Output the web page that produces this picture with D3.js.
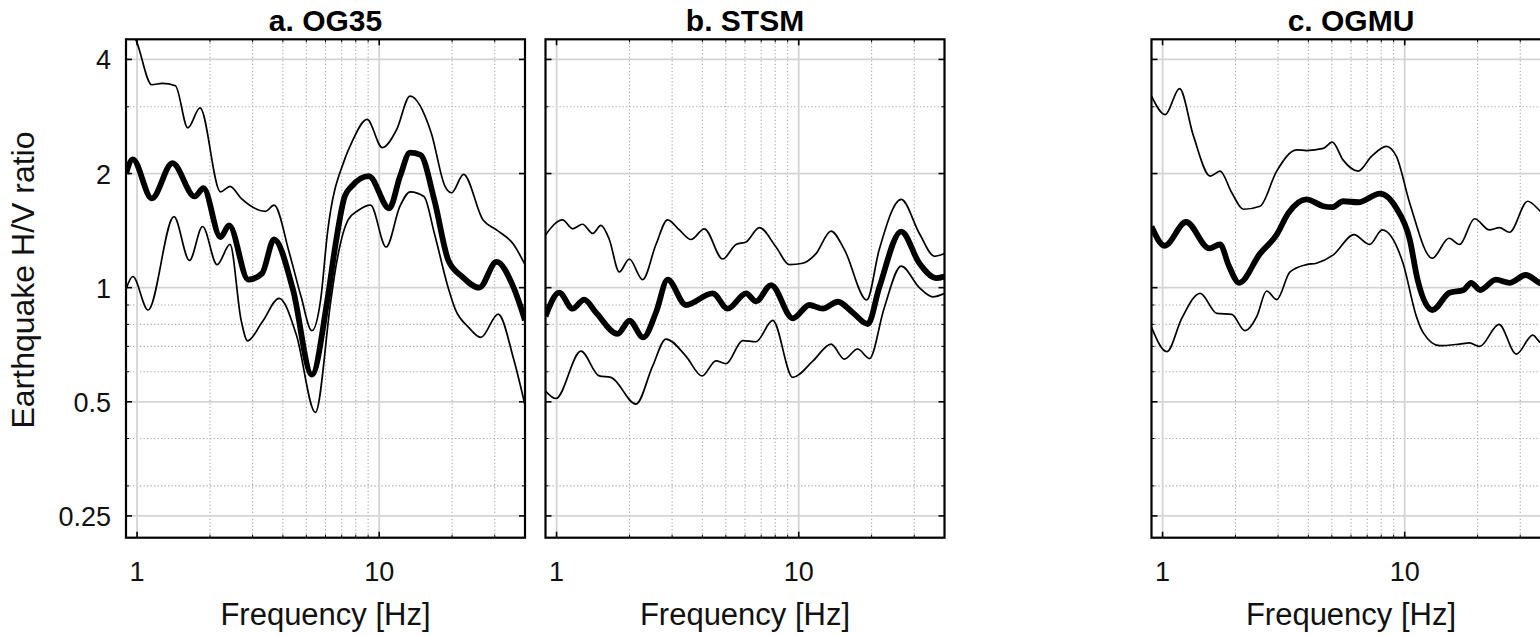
<!DOCTYPE html>
<html><head><meta charset="utf-8">
<script src="https://cdn.jsdelivr.net/npm/d3@7/dist/d3.min.js"></script>
<style>body{margin:0;background:#fff}svg{display:block}</style>
</head><body>
<svg id="chart" width="1540" height="636"></svg>
<script>
// ---------- labels / ticks ----------
const panelTitles = ["a. OG35", "b. STSM", "c. OGMU"];
const xLabel = "Frequency [Hz]";
const yLabel = "Earthquake H/V ratio";
const xTickValues = [1, 10];
const xTickLabels = ["1", "10"];
const yTickValues = [0.25, 0.5, 1, 2, 4];
const yTickLabels = ["0.25", "0.5", "1", "2", "4"];
const xMinorValues = [2, 3, 4, 5, 6, 7, 8, 9, 20, 30, 40];
const yMinorValues = [0.3, 0.4, 0.6, 0.7, 0.8, 0.9, 3];

// ---------- a. OG35 ----------
const og35MeanF  = [0.9, 0.96, 1.15, 1.4, 1.73, 1.88, 2.21, 2.4, 2.88, 3.28, 3.68, 4.4, 5.27, 6.11, 6.6, 7.2, 7.69, 9.06, 11.0, 12.2, 13.4, 14.8, 16.9, 19.3, 22.0, 25.9, 30.5, 35.9, 40];
const og35MeanV  = [2.0, 2.18, 1.72, 2.13, 1.74, 1.83, 1.36, 1.46, 1.05, 1.09, 1.34, 0.99, 0.59, 0.93, 1.3, 1.74, 1.85, 1.97, 1.62, 1.97, 2.27, 2.24, 1.70, 1.18, 1.07, 1.0, 1.17, 1.0, 0.82];
const og35UpperF = [0.9, 0.99, 1.15, 1.27, 1.44, 1.62, 1.82, 2.21, 2.42, 2.69, 3.39, 3.68, 4.26, 4.75, 5.27, 5.73, 6.11, 7.2, 7.69, 8.91, 10.3, 11.8, 13.4, 16.4, 18.7, 19.9, 22.3, 26.8, 30.5, 35.9, 40];
const og35UpperV = [5.0, 4.5, 3.43, 3.46, 3.41, 2.64, 2.98, 1.79, 1.85, 1.72, 1.59, 1.65, 1.23, 0.95, 0.77, 0.93, 1.39, 2.18, 2.41, 2.78, 2.34, 2.61, 3.2, 2.56, 1.85, 1.78, 1.99, 1.51, 1.42, 1.30, 1.15];
const og35LowerF = [0.9, 0.96, 1.11, 1.42, 1.645, 1.865, 2.14, 2.42, 2.69, 2.86, 3.28, 3.86, 4.55, 5.45, 6.32, 6.63, 7.44, 8.21, 9.21, 10.68, 12.18, 13.43, 15.3, 16.9, 19.27, 20.6, 23.4, 26.3, 31.0, 35.9, 40];
const og35LowerV = [0.99, 1.07, 0.873, 1.54, 1.18, 1.45, 1.15, 1.30, 0.82, 0.724, 0.81, 0.937, 0.75, 0.469, 0.93, 1.14, 1.51, 1.60, 1.65, 1.28, 1.64, 1.79, 1.74, 1.39, 1.0, 0.878, 0.786, 0.739, 0.852, 0.648, 0.49];

// ---------- b. STSM ----------
const stsmMeanF  = [0.9, 1.026, 1.164, 1.30, 1.454, 1.787, 2.0, 2.28, 2.573, 2.875, 3.42, 4.41, 5.09, 6.06, 6.66, 7.69, 9.45, 11.07, 12.57, 14.5, 16.7, 19.3, 21.5, 26.5, 31.5, 36.9, 40];
const stsmMeanV  = [0.84, 0.97, 0.88, 0.93, 0.86, 0.755, 0.818, 0.739, 0.86, 1.05, 0.90, 0.966, 0.88, 0.966, 0.92, 1.016, 0.83, 0.90, 0.88, 0.918, 0.86, 0.802, 1.0, 1.406, 1.16, 1.06, 1.07];
const stsmUpperF = [0.9, 1.059, 1.164, 1.28, 1.409, 1.525, 1.651, 1.815, 1.997, 2.267, 2.573, 2.875, 3.213, 3.591, 4.076, 4.853, 5.51, 6.06, 6.88, 8.06, 9.15, 10.39, 11.79, 13.6, 15.44, 19.1, 21.5, 26.5, 31.5, 36.4, 40];
const stsmUpperV = [1.378, 1.51, 1.43, 1.47, 1.39, 1.46, 1.34, 1.10, 1.19, 1.05, 1.30, 1.51, 1.42, 1.34, 1.43, 1.19, 1.30, 1.32, 1.44, 1.28, 1.15, 1.16, 1.23, 1.41, 1.26, 0.928, 1.26, 1.71, 1.39, 1.21, 1.23];
const stsmLowerF = [0.9, 0.994, 1.26, 1.50, 1.677, 2.128, 2.49, 2.83, 3.42, 3.99, 4.55, 5.01, 5.87, 6.66, 7.81, 9.45, 11.43, 13.6, 15.44, 17.5, 19.6, 22.5, 26.5, 31.5, 35.8, 40];
const stsmLowerV = [0.534, 0.51, 0.68, 0.585, 0.58, 0.493, 0.62, 0.732, 0.66, 0.585, 0.641, 0.63, 0.725, 0.72, 0.82, 0.58, 0.64, 0.71, 0.648, 0.689, 0.65, 0.88, 1.14, 1.0, 0.946, 0.966];

// ---------- c. OGMU ----------
const ogmuMeanF  = [0.9, 1.02, 1.25, 1.56, 1.728, 1.88, 2.07, 2.526, 2.96, 3.3, 3.93, 4.61, 5.02, 5.57, 6.42, 7.9, 9.24, 10.49, 11.3, 13.0, 15.3, 17.5, 18.8, 20.5, 23.8, 27.1, 31.6, 36.0, 40];
const ogmuMeanV  = [1.45, 1.29, 1.49, 1.27, 1.30, 1.14, 1.03, 1.23, 1.38, 1.57, 1.71, 1.64, 1.63, 1.69, 1.68, 1.77, 1.62, 1.34, 1.05, 0.873, 0.97, 0.986, 1.03, 0.986, 1.05, 1.03, 1.08, 1.03, 1.0];
const ogmuUpperF = [0.9, 1.025, 1.175, 1.342, 1.572, 1.728, 1.931, 2.157, 2.526, 2.96, 3.58, 3.93, 4.61, 5.02, 5.57, 6.42, 7.29, 8.40, 9.24, 10.49, 13.0, 15.23, 16.85, 19.43, 22.4, 24.6, 27.1, 32.2, 36.0, 40];
const ogmuUpperV = [3.2, 2.86, 3.35, 2.51, 1.97, 2.03, 1.78, 1.61, 1.64, 2.03, 2.31, 2.30, 2.33, 2.42, 2.17, 2.03, 2.22, 2.36, 2.22, 1.67, 1.196, 1.35, 1.30, 1.52, 1.42, 1.44, 1.40, 1.69, 1.6, 1.5];
const ogmuLowerF = [0.9, 1.042, 1.20, 1.43, 1.675, 1.93, 2.19, 2.45, 2.69, 2.96, 3.36, 3.93, 4.32, 5.07, 6.17, 7.17, 8.07, 9.84, 11.17, 11.9, 13.94, 16.85, 18.5, 20.4, 24.5, 28.9, 33.8, 36.0, 40];
const ogmuLowerV = [0.786, 0.678, 0.83, 0.966, 0.855, 0.85, 0.77, 0.84, 0.98, 0.93, 1.10, 1.15, 1.16, 1.22, 1.38, 1.30, 1.42, 1.16, 0.84, 0.762, 0.703, 0.71, 0.715, 0.70, 0.80, 0.668, 0.75, 0.72, 0.7];

const panels = [
  {title: panelTitles[0], x0: 126,    series: [[og35UpperF, og35UpperV], [og35LowerF, og35LowerV]], mean: [og35MeanF, og35MeanV], yLabels: true},
  {title: panelTitles[1], x0: 545.5,  series: [[stsmUpperF, stsmUpperV], [stsmLowerF, stsmLowerV]], mean: [stsmMeanF, stsmMeanV], yLabels: false},
  {title: panelTitles[2], x0: 1151.5, series: [[ogmuUpperF, ogmuUpperV], [ogmuLowerF, ogmuLowerV]], mean: [ogmuMeanF, ogmuMeanV], yLabels: false}
];

const W = 399, plotTop = 39.3, plotBottom = 537.7;
const svg = d3.select("#chart");
const FONT = "'Liberation Sans', Arial, Helvetica, sans-serif";

const y = d3.scaleLog().domain([0.219, 4.52]).range([plotBottom, plotTop]);

panels.forEach((p, i) => {
  const x = d3.scaleLog().domain([0.9, 40]).range([p.x0, p.x0 + W]);
  const g = svg.append("g");
  const clipId = "clip" + i;
  g.append("clipPath").attr("id", clipId).append("rect")
    .attr("x", p.x0).attr("y", plotTop).attr("width", W).attr("height", plotBottom - plotTop);

  // minor grid (dotted)
  g.selectAll(".xmin").data(xMinorValues).enter().append("line")
    .attr("x1", d => x(d)).attr("x2", d => x(d)).attr("y1", plotTop).attr("y2", plotBottom)
    .attr("stroke", "#aaaaaa").attr("stroke-width", 1.1).attr("stroke-dasharray", "1.3,2.2");
  g.selectAll(".ymin").data(yMinorValues).enter().append("line")
    .attr("x1", p.x0).attr("x2", p.x0 + W).attr("y1", d => y(d)).attr("y2", d => y(d))
    .attr("stroke", "#aaaaaa").attr("stroke-width", 1.1).attr("stroke-dasharray", "1.3,2.2");
  // major grid
  g.selectAll(".xmaj").data(xTickValues).enter().append("line")
    .attr("x1", d => x(d)).attr("x2", d => x(d)).attr("y1", plotTop).attr("y2", plotBottom)
    .attr("stroke", "#d4d4d4").attr("stroke-width", 1.8);
  g.selectAll(".ymaj").data(yTickValues).enter().append("line")
    .attr("x1", p.x0).attr("x2", p.x0 + W).attr("y1", d => y(d)).attr("y2", d => y(d))
    .attr("stroke", "#d4d4d4").attr("stroke-width", 1.8);

  const line = d3.line().x(d => x(d[0])).y(d => y(d[1])).curve(d3.curveMonotoneX);
  const lines = g.append("g").attr("clip-path", `url(#${clipId})`);
  p.series.forEach(s => {
    lines.append("path").datum(s[0].map((f, k) => [f, s[1][k]]))
      .attr("d", line).attr("fill", "none").attr("stroke", "#000").attr("stroke-width", 1.7);
  });
  lines.append("path").datum(p.mean[0].map((f, k) => [f, p.mean[1][k]]))
    .attr("d", line).attr("fill", "none").attr("stroke", "#000").attr("stroke-width", 5.8)
    .attr("stroke-linejoin", "round");

  // ticks (inward)
  const tk = g.append("g").attr("stroke", "#000").attr("stroke-width", 1.6);
  xTickValues.forEach(v => {
    tk.append("line").attr("x1", x(v)).attr("x2", x(v)).attr("y1", plotBottom).attr("y2", plotBottom - 6);
    tk.append("line").attr("x1", x(v)).attr("x2", x(v)).attr("y1", plotTop).attr("y2", plotTop + 6);
  });
  xMinorValues.forEach(v => {
    tk.append("line").attr("x1", x(v)).attr("x2", x(v)).attr("y1", plotBottom).attr("y2", plotBottom - 3).attr("stroke-width", 1);
    tk.append("line").attr("x1", x(v)).attr("x2", x(v)).attr("y1", plotTop).attr("y2", plotTop + 3).attr("stroke-width", 1);
  });
  yTickValues.forEach(v => {
    tk.append("line").attr("x1", p.x0).attr("x2", p.x0 + 6).attr("y1", y(v)).attr("y2", y(v));
    tk.append("line").attr("x1", p.x0 + W).attr("x2", p.x0 + W - 6).attr("y1", y(v)).attr("y2", y(v));
  });
  yMinorValues.forEach(v => {
    tk.append("line").attr("x1", p.x0).attr("x2", p.x0 + 3).attr("y1", y(v)).attr("y2", y(v)).attr("stroke-width", 1);
    tk.append("line").attr("x1", p.x0 + W).attr("x2", p.x0 + W - 3).attr("y1", y(v)).attr("y2", y(v)).attr("stroke-width", 1);
  });

  // border
  g.append("rect").attr("x", p.x0).attr("y", plotTop).attr("width", W).attr("height", plotBottom - plotTop)
    .attr("fill", "none").attr("stroke", "#000").attr("stroke-width", 2.2);

  // x tick labels
  g.selectAll(".xtl").data(xTickValues).enter().append("text")
    .attr("x", d => x(d)).attr("y", 581).attr("text-anchor", "middle")
    .attr("font-family", FONT).attr("font-size", 27).attr("fill", "#111")
    .text((d, k) => xTickLabels[k]);
  // y tick labels
  if (p.yLabels) {
    g.selectAll(".ytl").data(yTickValues).enter().append("text")
      .attr("x", p.x0 - 15).attr("y", d => y(d) + 10).attr("text-anchor", "end")
      .attr("font-family", FONT).attr("font-size", 27).attr("fill", "#111")
      .text((d, k) => yTickLabels[k]);
  }
  // x label
  g.append("text").attr("x", p.x0 + W / 2).attr("y", 625).attr("text-anchor", "middle")
    .attr("font-family", FONT).attr("font-size", 31).attr("fill", "#111").text(xLabel);
  // title
  g.append("text").attr("x", p.x0 + W / 2).attr("y", 31).attr("text-anchor", "middle")
    .attr("font-family", FONT).attr("font-size", 30).attr("font-weight", "bold").attr("fill", "#000")
    .text(p.title);
});

svg.append("text").attr("transform", "translate(33.5,280) rotate(-90)").attr("text-anchor", "middle")
  .attr("font-family", FONT).attr("font-size", 32).attr("fill", "#111").text(yLabel);
</script>
</body></html>
